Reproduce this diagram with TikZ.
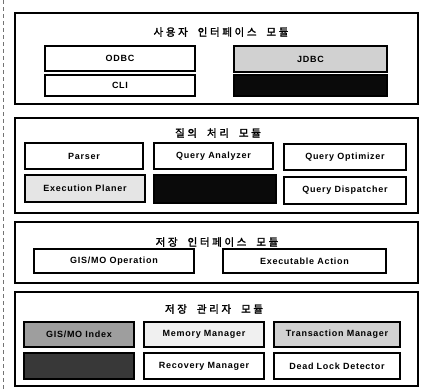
\documentclass[tikz,border=0pt]{standalone}
\usepackage{fontspec}
\setmainfont{Liberation Sans}
\newfontfamily\kofont[LetterSpace=25,WordSpace=2.0,FakeBold=1.8]{Noto Sans CJK KR}
\begin{document}
\begin{tikzpicture}[x=1pt,y=-1pt,
  modbox/.style={draw=black, line width=1.6pt, inner sep=0pt, outer sep=0pt, anchor=north west},
  cbox/.style={draw=black, line width=1.2pt, inner sep=0pt, outer sep=0pt, anchor=north west,
    font=\fontsize{9}{10}\selectfont\bfseries\addfontfeatures{LetterSpace=8}},
  title/.style={inner sep=0pt, font=\fontsize{10.5}{12}\selectfont\kofont},
  lightfill/.style={fill=black!18},
  paler/.style={fill=black!10},
  palest/.style={fill=black!6},
  midfill/.style={fill=black!38},
  darkfill/.style={fill=black!78},
  blackfill/.style={fill=black!96}
]
\useasboundingbox (0,0) rectangle (422,389);
\fill[white] (0,0) rectangle (422,389);
\coordinate (lt) at (3,0);
\coordinate (lb) at (3,389);
\draw[black!55, line width=0.6pt, dash pattern=on 4pt off 3pt] (lt) -- (lb);

% Module 1
\node[modbox, minimum width=403pt, minimum height=91pt] (m1) at (15,13) {};
\node[title] (t1) at (221,32) {사용자 인터페이스 모듈};
\node[cbox, minimum width=150pt, minimum height=25pt] (odbc) at (45,46) {ODBC};
\node[cbox, lightfill, minimum width=153pt, minimum height=26pt] (jdbc) at (234,46) {JDBC};
\node[cbox, minimum width=150pt, minimum height=21pt] (cli) at (45,75) {CLI};
\node[cbox, blackfill, minimum width=153pt, minimum height=21pt] (blk1) at (234,75) {};

% Module 2
\node[modbox, minimum width=403pt, minimum height=95pt] (m2) at (15,118) {};
\node[title] (t2) at (218,133) {질의 처리 모듈};
\node[cbox, minimum width=118pt, minimum height=26pt] (parser) at (25,143) {Parser};
\node[cbox, minimum width=119pt, minimum height=26pt] (qa) at (154,143) {Query Analyzer};
\node[cbox, minimum width=122pt, minimum height=26pt] (qo) at (284,144) {Query Optimizer};
\node[cbox, paler, minimum width=120pt, minimum height=27pt] (ep) at (25,175) {Execution Planer};
\node[cbox, blackfill, minimum width=122pt, minimum height=28pt] (blk2) at (154,175) {};
\node[cbox, minimum width=122pt, minimum height=27pt] (qd) at (284,177) {Query Dispatcher};

% Module 3
\node[modbox, minimum width=403pt, minimum height=61pt] (m3) at (15,222) {};
\node[title] (t3) at (217,242) {저장 인터페이스 모듈};
\node[cbox, minimum width=160pt, minimum height=24pt] (gis) at (34,249) {GIS/MO Operation};
\node[cbox, minimum width=163pt, minimum height=24pt] (ea) at (223,249) {Executable Action};

% Module 4
\node[modbox, minimum width=403pt, minimum height=94pt] (m4) at (15,292) {};
\node[title] (t4) at (214,309) {저장 관리자 모듈};
\node[cbox, midfill, minimum width=110pt, minimum height=25pt] (gidx) at (24,322) {GIS/MO Index};
\node[cbox, palest, minimum width=120pt, minimum height=25pt] (mm) at (144,322) {Memory Manager};
\node[cbox, lightfill, minimum width=126pt, minimum height=25pt] (tm) at (274,322) {Transaction Manager};
\node[cbox, darkfill, minimum width=110pt, minimum height=26pt] (dk) at (24,353) {};
\node[cbox, minimum width=120pt, minimum height=26pt] (rm) at (144,353) {Recovery Manager};
\node[cbox, minimum width=126pt, minimum height=26pt] (dld) at (274,353) {Dead Lock Detector};
\end{tikzpicture}
\end{document}
